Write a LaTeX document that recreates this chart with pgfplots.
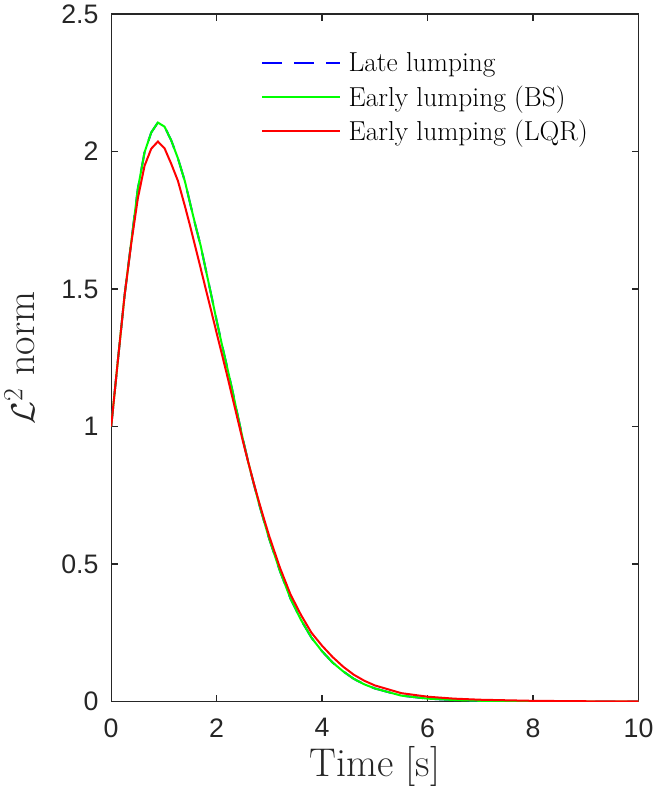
\documentclass[border=0pt]{standalone}
\usepackage{pgfplots}
\pgfplotsset{compat=1.18}
\usepackage{fontspec}
\newfontfamily\arialfont{Liberation Sans}
\definecolor{axgray}{RGB}{38,38,38}

\pgfplotstableread{
t y
0 1.0
0.127 1.24
0.253 1.475
0.38 1.67
0.506 1.865
0.633 1.997
0.76 2.069
0.886 2.105
1.013 2.09
1.139 2.04
1.266 1.975
1.4 1.89
1.5 1.809
1.6 1.73
1.7 1.655
1.8 1.565
1.9 1.476
2.0 1.385
2.1 1.298
2.2 1.215
2.3 1.13
2.4 1.04
2.5 0.952
2.6 0.87
2.7 0.795
2.8 0.722
2.9 0.655
3.0 0.59
3.2 0.475
3.4 0.375
3.6 0.297
3.8 0.232
4.0 0.183
4.2 0.142
4.4 0.11
4.6 0.083
4.8 0.063
5.0 0.048
5.5 0.022
6.0 0.011
6.5 0.006
7.0 0.003
8.0 0.001
9.0 0.0004
10.0 0.0001
}\bsdata

\pgfplotstableread{
t y
0 1.0
0.127 1.24
0.253 1.475
0.38 1.665
0.506 1.83
0.633 1.948
0.76 2.01
0.886 2.036
1.013 2.011
1.139 1.955
1.266 1.893
1.4 1.80
1.5 1.727
1.6 1.65
1.7 1.573
1.8 1.495
1.9 1.418
2.0 1.34
2.1 1.263
2.2 1.185
2.3 1.105
2.4 1.025
2.5 0.945
2.6 0.87
2.7 0.797
2.8 0.728
2.9 0.663
3.0 0.60
3.2 0.487
3.4 0.39
3.6 0.315
3.8 0.25
4.0 0.203
4.2 0.162
4.4 0.127
4.6 0.098
4.8 0.076
5.0 0.059
5.5 0.031
6.0 0.018
6.5 0.011
7.0 0.007
8.0 0.003
9.0 0.0015
10.0 0.0007
}\lqrdata

\begin{document}
\begin{tikzpicture}
\begin{axis}[
  scale only axis,
  width=394.5pt, height=514.5pt,
  xmin=0, xmax=10, ymin=0, ymax=2.5,
  xtick={0,2,...,10},
  ytick={0,0.5,...,2.5},
  yticklabels={0,0.5,1,1.5,2,2.5},
  tick align=inside,
  major tick length=5pt,
  axis line style={axgray, line width=1pt},
  every tick/.style={axgray, line width=1pt},
  tick label style={font=\arialfont\fontsize{20}{22}\selectfont, text=axgray},
  /pgf/number format/assume math mode=true,
  xticklabel style={yshift=-9pt},
  yticklabel style={xshift=-6pt},
  xlabel={Time [s]},
  ylabel={$\mathcal{L}^2$ norm},
  label style={font=\fontsize{30}{34}\selectfont, text=axgray},
  xlabel style={yshift=0pt},
  ylabel style={yshift=13pt},
  legend style={draw=none, fill=none, at={(0.276,0.952)}, anchor=north west,
    font=\fontsize{20.5}{24}\selectfont, row sep=5pt,
    legend cell align=left},
  legend cell align=left,
  legend image code/.code={\draw[#1] (0pt,0pt) -- (58pt,0pt); \path (62pt,0pt);},
]
\addplot[blue, line width=1.5pt, dash pattern=on 15pt off 9pt] table[x=t,y=y] {\bsdata};
\addlegendentry{Late lumping}
\addplot[green, line width=1.5pt] table[x=t,y=y] {\bsdata};
\addlegendentry{Early lumping (BS)}
\addplot[red, line width=1.5pt] table[x=t,y=y] {\lqrdata};
\addlegendentry{Early lumping (LQR)}
\end{axis}
\end{tikzpicture}
\end{document}
